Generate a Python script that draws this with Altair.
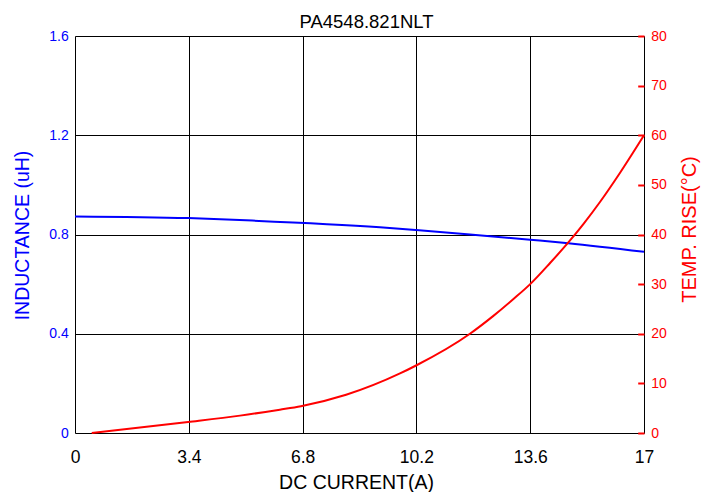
import altair as alt
import pandas as pd

# Inductance curve (uH) vs DC current (A)
ind_current = [0.0, 3.38, 5.3, 9.11, 10.19, 11.8, 13.6, 14.74, 17.0]
ind_value = [0.873, 0.866, 0.856, 0.829, 0.818, 0.800, 0.779, 0.765, 0.730]

# Temperature rise (°C) vs DC current (A)
temp_current = [0.5, 3.38, 4.93, 6.12, 6.75, 8.1, 9.71, 10.19, 11.8, 12.5, 13.1, 13.6,
                14.2, 14.74, 15.2, 15.69, 16.28, 17.0]
temp_value = [0.0, 2.2, 3.5, 4.7, 5.4, 7.7, 12.0, 13.6, 20.0, 23.6, 27.0, 30.0,
              34.3, 38.4, 42.2, 46.6, 52.4, 60.0]

x_ticks = [0, 3.4, 6.8, 10.2, 13.6, 17]
l_ticks = [0, 0.4, 0.8, 1.2, 1.6]
r_ticks = [0, 10, 20, 30, 40, 50, 60, 70, 80]

df_ind = pd.DataFrame({"current": ind_current, "L": ind_value})
df_temp = pd.DataFrame({"current": temp_current, "T": temp_value})

FONT = "Liberation Sans"

x_enc = alt.X(
    "current:Q",
    scale=alt.Scale(domain=[0, 17], nice=False, zero=False),
    axis=alt.Axis(
        values=x_ticks, format=".1~f", title="DC CURRENT(A)",
        grid=True, gridColor="black", gridOpacity=1, gridWidth=1,
        ticks=False, domain=False, labelFlush=False, labelBound=False,
        labelFont=FONT, labelFontSize=17.5, labelColor="black", labelPadding=15,
        titleFont=FONT, titleFontSize=19.5, titleFontWeight="normal", titleColor="black",
        titleX=281, titleY=49, titleBaseline="middle", titleAlign="center",
    ),
)

blue = alt.Chart(df_ind).mark_line(color="#0000ff", strokeWidth=2, interpolate="monotone").encode(
    x=x_enc,
    y=alt.Y(
        "L:Q",
        scale=alt.Scale(domain=[0, 1.6], nice=False),
        axis=alt.Axis(
            values=l_ticks, format=".1~f", title="INDUCTANCE (uH)", orient="left",
            grid=True, gridColor="black", gridOpacity=1, gridWidth=1,
            ticks=False, domain=False,
            labelFont=FONT, labelFontSize=14, labelColor="#0000ff", labelPadding=6.7,
            titleFont=FONT, titleFontSize=19.5, titleFontWeight="normal", titleColor="#0000ff",
            titleAngle=270, titleX=-52.5, titleY=199, titleBaseline="middle", titleAlign="center",
        ),
    ),
)

red = alt.Chart(df_temp).mark_line(color="#ff0000", strokeWidth=2, interpolate="monotone").encode(
    x=alt.X("current:Q"),
    y=alt.Y(
        "T:Q",
        scale=alt.Scale(domain=[0, 80], nice=False),
        axis=alt.Axis(
            values=r_ticks, format="d", title="TEMP. RISE(°C)", orient="right",
            grid=False, domain=False,
            ticks=True, tickColor="#ff0000", tickWidth=2, tickSize=6.3, offset=-6.3,
            labelFont=FONT, labelFontSize=14, labelColor="#ff0000", labelPadding=6.7,
            titleFont=FONT, titleFontSize=20, titleFontWeight="normal", titleColor="#ff0000",
            titleAngle=270, titleX=51.3, titleY=193, titleBaseline="middle", titleAlign="center",
        ),
    ),
)

chart = alt.layer(blue, red).resolve_scale(y="independent").properties(
    width=569,
    height=397,
    title=alt.TitleParams(
        "PA4548.821NLT", font=FONT, fontSize=18.5, fontWeight="normal", color="black",
        anchor="middle", offset=-17, dx=7, baseline="alphabetic",
    ),
    padding={"left": 67, "top": 28, "right": 62, "bottom": 59},
    autosize=alt.AutoSizeParams(type="none"),
).configure_view(stroke="black", strokeWidth=1).configure(background="white")

chart.save("out.html", embed_options={"renderer": "svg", "actions": False})
